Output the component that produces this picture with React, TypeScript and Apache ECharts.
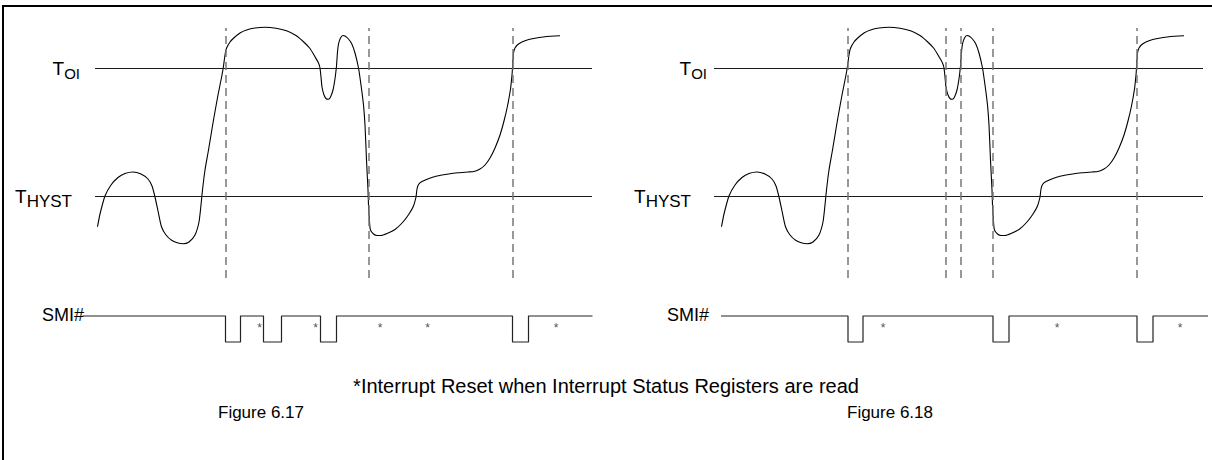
import React, { useEffect, useRef } from "react";
import * as echarts from "echarts";

// ---- data (time units t, temperature units v on 0..100) ----
const curveTime = [
  19.5, 20, 21, 22.2, 23.6, 25, 26.6, 28.2, 29.6, 30.4, 31, 31.6, 32.3, 33.2, 34.4, 35.6, 36.6, 37.8, 39, 39.8,
  40.2, 40.5, 41, 41.7, 42.7, 43.6, 44.4, 44.7, 45, 45.3, 46, 46.7, 48, 49.3, 51, 53, 55.2, 57.3, 59.2, 60.7,
  62, 63, 63.7, 64, 64.2, 64.4, 64.8, 65.3, 65.7, 66.1, 66.6, 66.9, 67.1, 67.3, 67.5, 67.7, 68.1, 68.6, 69, 69.6,
  70.3, 71, 71.7, 72.2, 72.7, 73, 73.3, 73.6, 73.7, 73.9, 74.1, 74.7, 75.4, 76.2, 77.4, 79, 80.6, 81.8, 82.7, 83.2,
  83.4, 83.7, 84.4, 85.8, 87.4, 89.4, 91.6, 93.6, 94.8, 96, 97, 98, 99, 100, 100.8, 101.5, 102.1, 102.4, 102.5, 102.7,
  103, 103.7, 105, 106.7, 109, 112,
];
const curveTemp = [
  20.5, 25.6, 32.8, 37.2, 40.2, 41.8, 42.4, 41.6, 39.6, 36.8, 32.4, 26.8, 20.5, 17.2, 15, 14, 13.7, 14.4, 17.2, 22.4,
  29.2, 35.2, 43.2, 51.2, 63.2, 73.2, 81.2, 84.8, 89.2, 91.9, 94.4, 95.9, 98, 99.2, 100, 100.3, 99.9, 98.9, 97, 94.5,
  91.8, 88.5, 86, 84, 80.4, 76.4, 73.2, 71.6, 71.5, 72.4, 75.2, 78.4, 81.2, 84.8, 90.4, 93.6, 96, 97, 96.8, 95.8,
  93.9, 90, 84, 77.2, 69.2, 61.2, 47.2, 35.2, 29.2, 22.4, 19.2, 17.6, 17, 17, 17.8, 19.4, 22.4, 25.6, 28.8, 32.4,
  35.6, 37.4, 38.6, 39.8, 40.8, 41.5, 42.1, 42.4, 42.6, 43.6, 45.2, 48, 52, 57.2, 62.8, 68.8, 75.6, 81.2, 84, 90,
  92, 93.6, 94.9, 95.8, 96.5, 96.9,
];

const T_OI = 84;
const T_HYST = 32.8;

const thresholdSpanLeft = [19, 118.4];
const thresholdSpanRight = [18, 115.8];

const dashedTimesLeft = [45.1, 73.8, 102.6];
const dashedTimesRight = [44.8, 64.3, 67.4, 73.8, 102.6];

const smiTimesLeft = [16.5, 45.1, 48.1, 52.7, 56.3, 64.1, 67.3, 102.5, 105.7, 118.5];
const smiLevelsLeft = [1, 0, 1, 0, 1, 0, 1, 0, 1, 1];
const smiTimesRight = [19.4, 44.8, 47.8, 73.8, 77, 102.6, 105.8, 116.8];
const smiLevelsRight = [1, 0, 1, 0, 1, 0, 1, 1];

const asteriskTimesLeft = [51.9, 63.1, 76, 85.5, 111.2];
const asteriskTimesRight = [51.8, 86.6, 111.2];

const FONT = "'Liberation Sans', Arial, Helvetica, sans-serif";

const labelRich = {
  t: { fontSize: 19, fontFamily: FONT, color: "#000" },
  o: { fontSize: 15, fontFamily: FONT, color: "#000", padding: [10, 0, 0, 0] },
  h: { fontSize: 17, fontFamily: FONT, color: "#000", padding: [10, 0, 0, 0] },
};

function panel(base: number, span: number[], dashed: number[], smiT: number[], smiL: number[], ast: number[], hystDist: number, oiDist: number) {
  const ci = base;
  const si = base + 1;
  const curveData = curveTime.map((t, i) => [t, curveTemp[i]]);
  const smiData = smiT.map((t, i) => [t, smiL[i]]);
  return [
    {
      type: "line",
      xAxisIndex: ci,
      yAxisIndex: ci,
      data: curveData,
      symbol: "none",
      smooth: 0.2,
      clip: false,
      silent: true,
      lineStyle: { color: "#000", width: 1.1 },
      z: 3,
      markLine: {
        silent: true,
        symbol: ["none", "none"],
        animation: false,
        data: [
          [
            {
              coord: [span[0], T_OI],
              lineStyle: { color: "#1a1a1a", width: 1.1, type: "solid" },
              label: { show: true, position: "start", distance: oiDist, formatter: "{t|T}{o|OI}", rich: labelRich },
            },
            { coord: [span[1], T_OI] },
          ],
          [
            {
              coord: [span[0], T_HYST],
              lineStyle: { color: "#1a1a1a", width: 1.1, type: "solid" },
              label: { show: true, position: "start", distance: hystDist, formatter: "{t|T}{h|HYST}", rich: labelRich },
            },
            { coord: [span[1], T_HYST] },
          ],
          ...dashed.map((x) => ({
            xAxis: x,
            lineStyle: { color: "#777", width: 1.5, type: [8, 5] },
            label: { show: false },
          })),
        ],
      },
    },
    {
      type: "line",
      xAxisIndex: si,
      yAxisIndex: si,
      step: "end",
      data: smiData,
      symbol: "none",
      clip: false,
      silent: true,
      lineStyle: { color: "#222", width: 1.2 },
    },
    {
      type: "scatter",
      xAxisIndex: si,
      yAxisIndex: si,
      data: ast.map((t) => [t, 0.55]),
      symbolSize: 1,
      silent: true,
      itemStyle: { color: "rgba(0,0,0,0)" },
      label: { show: true, position: "inside", formatter: "*", fontSize: 12, fontFamily: FONT, color: "#222" },
    },
  ];
}

export default function App() {
  const ref = useRef<HTMLDivElement>(null);
  useEffect(() => {
    if (!ref.current) return;
    const chart = echarts.init(ref.current, undefined, { renderer: "svg" });
    const grids = [
      { left: 0, top: 28, width: 600, height: 250 },
      { left: 0, top: 316, width: 600, height: 26 },
      { left: 624, top: 28, width: 588, height: 250 },
      { left: 624, top: 316, width: 588, height: 26 },
    ];
    const xMax = [120, 120, 117.6, 117.6];
    const yMax = [100, 1, 100, 1];
    const txt = (text: string, x: number, y: number, size: number) => ({
      type: "text",
      x,
      y,
      silent: true,
      style: { text, fontSize: size, fontFamily: FONT, fill: "#000", align: "center", verticalAlign: "middle" },
    });
    chart.setOption({
      animation: false,
      backgroundColor: "#fff",
      grid: grids.map((g) => ({ ...g, containLabel: false })),
      xAxis: grids.map((_, i) => ({ type: "value", gridIndex: i, min: 0, max: xMax[i], show: false })),
      yAxis: grids.map((_, i) => ({ type: "value", gridIndex: i, min: 0, max: yMax[i], show: false })),
      series: [
        ...panel(0, thresholdSpanLeft, dashedTimesLeft, smiTimesLeft, smiLevelsLeft, asteriskTimesLeft, 23, 15),
        ...panel(2, thresholdSpanRight, dashedTimesRight, smiTimesRight, smiLevelsRight, asteriskTimesRight, 23, 7),
      ],
      graphic: [
        { type: "rect", shape: { x: 3, y: 6, width: 1400, height: 700 }, style: { fill: "none", stroke: "#000", lineWidth: 2 }, silent: true },
        txt("SMI#", 63, 315, 18),
        txt("SMI#", 688, 315, 18),
        txt("*Interrupt Reset when Interrupt Status Registers are read", 606, 386, 20),
        txt("Figure 6.17", 261, 412, 17),
        txt("Figure 6.18", 890, 412, 17),
      ],
    });
    return () => chart.dispose();
  }, []);
  return <div ref={ref} style={{ position: "absolute", left: 0, top: 0, width: 1212, height: 460 }} />;
}
